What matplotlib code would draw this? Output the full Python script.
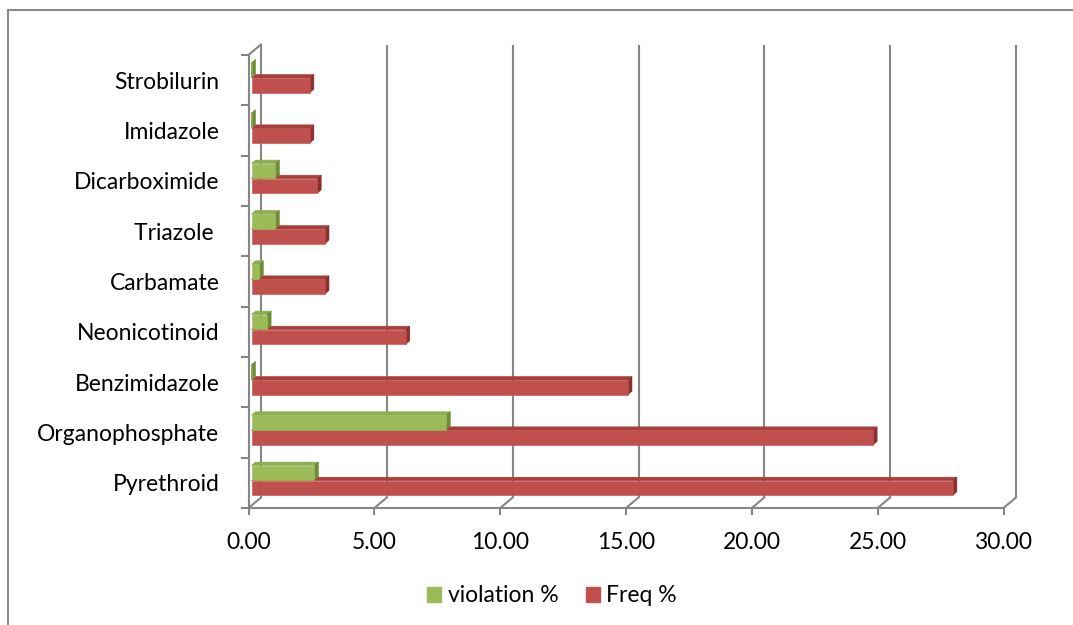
import matplotlib
matplotlib.use("Agg")
import matplotlib.pyplot as plt
from matplotlib.patches import Polygon, Patch, Rectangle
from matplotlib.lines import Line2D
from matplotlib.transforms import IdentityTransform, ScaledTranslation
import numpy as np

# Pesticide classes, bottom to top
categories = ["Pyrethroid", "Organophosphate", "Benzimidazole", "Neonicotinoid",
              "Carbamate", "Triazole ", "Dicarboximide", "Imidazole", "Strobilurin"]
violation_pct = [2.50, 7.74, 0.0, 0.62, 0.31, 0.95, 0.95, 0.0, 0.0]
freq_pct = [27.87, 24.70, 14.96, 6.13, 2.92, 2.92, 2.61, 2.32, 2.32]
x_ticks = [0, 5, 10, 15, 20, 25, 30]

plt.rcParams["font.family"] = ["Lato", "DejaVu Sans"]

W, H, DPI = 1073, 625, 100
fig = plt.figure(figsize=(W / DPI, H / DPI), dpi=DPI)
fig.patch.set_facecolor("white")

# Front plane of the 3D box
left, right, top, bottom = 248.5, 1003.5, 55.0, 508.0
ax = fig.add_axes([left / W, 1 - bottom / H, (right - left) / W, (bottom - top) / H])
ax.set_xlim(0, 30)
ax.set_ylim(-0.5, len(categories) - 0.5)
ax.set_facecolor("none")

grid_c = "#868686"
grid_lw = 1.5
wall_dx, wall_dy = 12.5, 10.5      # depth of the box in pixels
bar_off = (3.0, 2.5)               # bar front face inset
bar_dx, bar_dy = 4.0, 3.5          # bar depth

for s in ("top", "right"):
    ax.spines[s].set_visible(False)
for s in ("left", "bottom"):
    ax.spines[s].set_color(grid_c)
    ax.spines[s].set_linewidth(grid_lw)

# x axis
ax.set_xticks(x_ticks)
ax.set_xticklabels([f"{v:.2f}" for v in x_ticks])
ax.tick_params(axis="x", length=5, width=grid_lw, color=grid_c, pad=12,
               labelsize=16.5, labelcolor="black")

# y axis: tick marks on category boundaries, labels on centres
n = len(categories)
ax.set_yticks(np.arange(-0.5, n, 1.0))
ax.set_yticklabels([])
ax.tick_params(axis="y", which="major", length=6, width=grid_lw, color=grid_c)
ax.set_yticks(np.arange(n), minor=True)
ax.set_yticklabels(categories, minor=True)
ax.tick_params(axis="y", which="minor", length=0, pad=21, labelsize=16.5,
               labelcolor="black")

fig.canvas.draw()
T = ax.transData
back = T + ScaledTranslation(wall_dx / DPI, wall_dy / DPI, fig.dpi_scale_trans)
y0, y1 = -0.5, n - 0.5

# back wall gridlines and floor diagonals
for v in x_ticks:
    ax.plot([v, v], [y0, y1], transform=back, color=grid_c, lw=grid_lw,
            clip_on=False, zorder=1, solid_capstyle="butt")
    fx, fy = T.transform((v, y0))
    ax.add_line(Line2D([fx, fx + wall_dx], [fy, fy + wall_dy], transform=IdentityTransform(),
                       color=grid_c, lw=grid_lw, clip_on=False, zorder=1))
# top edge of the left wall
fx, fy = T.transform((0, y1))
ax.add_line(Line2D([fx, fx + wall_dx], [fy, fy + wall_dy], transform=IdentityTransform(),
                   color=grid_c, lw=grid_lw, clip_on=False, zorder=1))


def bar3d(value, yc, h, front, topc, side, z):
    xa, ya = T.transform((0, yc - h / 2))
    xb, yb = T.transform((value, yc + h / 2))
    xa += bar_off[0]; xb += bar_off[0]
    ya += bar_off[1]; yb += bar_off[1]
    faces = [
        ([(xa, yb), (xb, yb), (xb + bar_dx, yb + bar_dy), (xa + bar_dx, yb + bar_dy)], topc),
        ([(xb, ya), (xb + bar_dx, ya + bar_dy), (xb + bar_dx, yb + bar_dy), (xb, yb)], side),
        ([(xa, ya), (xb, ya), (xb, yb), (xa, yb)], front),
    ]
    for pts, c in faces:
        ax.add_patch(Polygon(pts, closed=True, transform=IdentityTransform(),
                             facecolor=c, edgecolor=c, lw=0.4, clip_on=False, zorder=z))


h = 0.29
green = ("#9BBB59", "#8DAE4E", "#6E8C36")
red = ("#C0504D", "#A43F3C", "#8A2F2C")
for i in range(n):
    bar3d(freq_pct[i], i - 0.152, h, *red, z=3 + i * 0.01)
    bar3d(violation_pct[i], i + 0.148, h, *green, z=3.005 + i * 0.01)

# legend
handles = [Patch(facecolor=green[0], edgecolor=green[0]),
           Patch(facecolor=red[0], edgecolor=red[0])]
fig.legend(handles, ["violation %", "Freq %"], loc="center",
           bbox_to_anchor=(552 / W, 1 - 596 / H), ncol=2, frameon=False,
           fontsize=16.5, handlelength=0.6, handleheight=0.6, handletextpad=0.3,
           columnspacing=1.2)

# chart area border
fig.patches.append(Rectangle((8 / W, -0.2), 1.5, 1.2 - 10 / H, transform=fig.transFigure,
                             fill=False, edgecolor="#8c8c8c", lw=1.5))

fig.savefig("out.png", dpi=DPI)
